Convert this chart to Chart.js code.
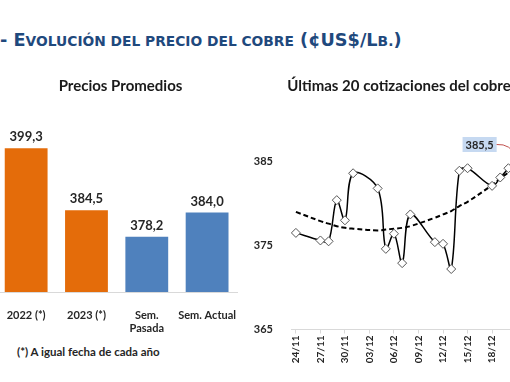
<!DOCTYPE html>
<html><head><meta charset="utf-8">
<script src="https://cdn.jsdelivr.net/npm/chart.js@4.4.1/dist/chart.umd.min.js"></script>
<style>
html,body{margin:0;padding:0;background:#fff;width:510px;height:382px;overflow:hidden;position:relative}
#hdr{position:absolute;left:0;top:29px;font-family:"DejaVu Sans";font-weight:bold;color:#1F497D;white-space:nowrap;line-height:22px}
.b{font-size:17.7px}.s{font-size:13.8px}
#note{position:absolute;left:17px;top:345px;font-family:Lato;font-weight:bold;font-size:11.5px;color:#262626;white-space:nowrap}
canvas{position:absolute}
</style></head><body>
<div id="hdr"><span class="b">- E</span><span class="s">VOLUCIÓN DEL PRECIO DEL COBRE</span><span class="b"> (¢US$/L</span><span class="s">B.</span><span class="b">)</span></div>
<canvas id="c1" width="249" height="262" style="left:-4px;top:70px"></canvas>
<canvas id="c2" width="298" height="312" style="left:250px;top:70px"></canvas>
<div id="note">(*) A igual fecha de cada año</div>
<script>
// ---- data ----
const barCategories = ['2022 (*)', '2023 (*)', ['Sem.', 'Pasada'], 'Sem. Actual'];
const barValues = [399.3, 384.5, 378.2, 384.0];
const barColors = ['#E46C0A', '#E46C0A', '#4F81BD', '#4F81BD'];

const quoteDates = ['24/11','27/11','28/11','29/11','30/11','01/12','04/12','05/12','06/12','07/12',
                    '08/12','11/12','12/12','13/12','14/12','15/12','18/12','19/12','20/12','21/12'];
const quoteValues = [376.5, 375.6, 375.5, 380.4, 378.0, 383.6, 381.8, 374.6, 376.4, 372.9,
                     378.7, 375.4, 375.2, 372.2, 383.9, 384.2, 382.1, 383.1, 384.2, 385.5];
const trendValues = [379.0, 377.9, 377.6, 377.3, 377.1, 377.0, 376.8, 376.9, 377.0, 377.1,
                     377.3, 378.3, 378.7, 379.1, 379.7, 380.2, 382.2, 383.0, 383.7, 384.5];
const dateTicks = ['24/11','27/11','30/11','03/12','06/12','09/12','12/12','15/12','18/12','21/12'];
const yTicks = [365, 375, 385];

// ---- helpers ----
const fmt = v => v.toFixed(1).replace('.', ',');
const toDay = s => { const [d, m] = s.split('/').map(Number); return Date.UTC(2023, m - 1, d) / 86400000; };
const day0 = toDay(quoteDates[0]);
const off = s => toDay(s) - day0;
const tickPos = dateTicks.map(off);
const txtColor = '#262626';
const titleFont = { family: 'Lato', weight: 'bold', size: 15 };

// ---- left: bar chart ----
const barLabels = {
  id: 'barLabels',
  afterDatasetsDraw(chart) {
    const ctx = chart.ctx;
    const meta = chart.getDatasetMeta(0);
    ctx.save();
    ctx.font = 'bold 13px Lato';
    ctx.fillStyle = txtColor;
    ctx.textAlign = 'center';
    ctx.textBaseline = 'middle';
    meta.data.forEach((el, i) => ctx.fillText(fmt(barValues[i]), el.x, el.y - 11));
    ctx.restore();
  }
};

new Chart(document.getElementById('c1'), {
  type: 'bar',
  data: {
    labels: barCategories,
    datasets: [{ data: barValues, backgroundColor: barColors, barPercentage: 0.71, categoryPercentage: 1 }]
  },
  options: {
    responsive: false, animation: false,
    layout: { padding: 0, autoPadding: false },
    plugins: {
      legend: { display: false }, tooltip: { enabled: false },
      title: { display: true, text: 'Precios Promedios', color: '#1a1a1a',
               font: titleFont, padding: { top: 7, bottom: 29.4 } }
    },
    scales: {
      x: {
        grid: { display: false },
        border: { display: true, color: '#d9d9d9', width: 1 },
        ticks: { color: txtColor, font: { family: 'Lato', weight: 'bold', size: 11 }, padding: 9, maxRotation: 0, autoSkip: false },
        afterFit(s) { s.height = 40; }
      },
      y: { display: false, min: 365, max: 405 }
    }
  },
  plugins: [barLabels]
});

// ---- right: line chart ----
const lastLabel = {
  id: 'lastLabel',
  afterDatasetsDraw(chart) {
    const meta = chart.getDatasetMeta(0);
    const pt = meta.data[meta.data.length - 1];
    const ctx = chart.ctx;
    const txt = fmt(quoteValues[quoteValues.length - 1]);
    ctx.save();
    ctx.font = 'bold 11px Lato';
    const w = ctx.measureText(txt).width + 6, h = 15;
    const cx = pt.x - 37, cy = pt.y - 12.8;
    ctx.fillStyle = '#C6D9F1';
    ctx.fillRect(cx - w / 2, cy - h / 2, w, h);
    ctx.fillStyle = txtColor;
    ctx.textAlign = 'center'; ctx.textBaseline = 'middle';
    ctx.fillText(txt, cx, cy + 0.5);
    ctx.strokeStyle = '#C0504D'; ctx.lineWidth = 1;
    ctx.beginPath(); ctx.moveTo(cx + w / 2, cy);
    ctx.quadraticCurveTo(pt.x - 6, cy - 1, pt.x, pt.y);
    ctx.stroke();
    ctx.restore();
  }
};

new Chart(document.getElementById('c2'), {
  type: 'line',
  data: {
    datasets: [
      {
        data: quoteDates.map((d, i) => ({ x: off(d), y: quoteValues[i] })),
        borderColor: '#000', borderWidth: 1.5, tension: 0.35,
        pointStyle: 'rectRot', pointRadius: 4.5, pointBackgroundColor: '#fff',
        pointBorderColor: '#555', pointBorderWidth: 1, order: 1
      },
      {
        data: quoteDates.map((d, i) => ({ x: off(d), y: trendValues[i] })),
        borderColor: '#000', borderWidth: 2, borderDash: [5, 3], tension: 0.4,
        pointRadius: 0, order: 2
      }
    ]
  },
  options: {
    responsive: false, animation: false,
    layout: { padding: 0, autoPadding: false },
    plugins: {
      legend: { display: false }, tooltip: { enabled: false },
      title: { display: true, text: 'Últimas 20 cotizaciones del cobre', color: '#1a1a1a',
               font: titleFont, padding: { top: 7, bottom: 24.5 } }
    },
    scales: {
      x: {
        type: 'linear', min: -0.6, max: 30.84,
        grid: { display: true, drawOnChartArea: false, drawTicks: true, tickLength: 4, color: '#d9d9d9' },
        border: { display: true, color: '#d9d9d9', width: 1 },
        ticks: {
          color: txtColor, font: { family: 'Lato', weight: 'bold', size: 10 }, padding: 2,
          minRotation: 90, maxRotation: 90, autoSkip: false,
          callback: v => { const i = tickPos.indexOf(v); return i >= 0 ? dateTicks[i] : ''; }
        },
        afterBuildTicks(s) { s.ticks = tickPos.map(v => ({ value: v })); },
        afterFit(s) { s.height = 52.5; s.paddingLeft = 0; s.paddingRight = 0; }
      },
      y: {
        min: 365, max: 390,
        grid: { display: false },
        border: { display: false },
        ticks: { color: txtColor, font: { family: 'Lato', weight: 'bold', size: 11 }, padding: 10 },
        afterBuildTicks(s) { s.ticks = yTicks.map(v => ({ value: v })); },
        afterFit(s) { s.width = 41; }
      }
    }
  },
  plugins: [lastLabel]
});
</script>
</body></html>
